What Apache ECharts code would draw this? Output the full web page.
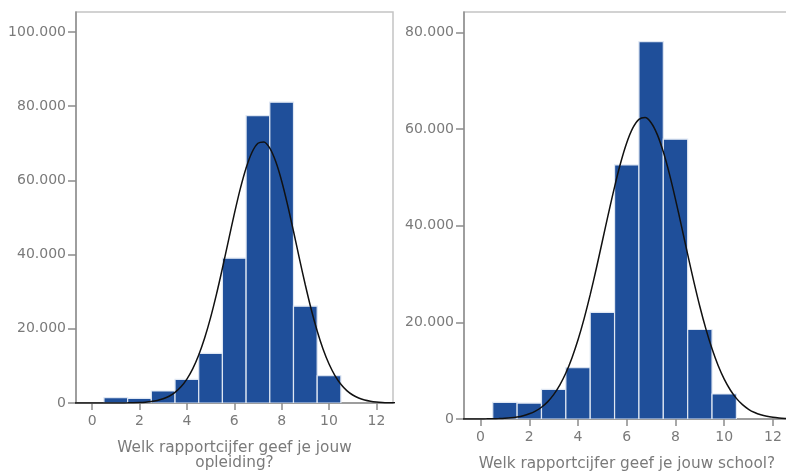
<!DOCTYPE html>
<html>
<head>
<meta charset="utf-8">
<script src="https://cdn.jsdelivr.net/npm/echarts@6/dist/echarts.min.js"></script>
<style>html,body{margin:0;padding:0;background:#fff}#c{width:786px;height:472px}</style>
</head>
<body>
<div id="c"></div>
<script>
// Bin centres (bin width 1)
const binCenters = [1, 2, 3, 4, 5, 6, 7, 8, 9, 10];
// Left: "Welk rapportcijfer geef je jouw opleiding?"
const opleidingCounts = [1430, 1260, 3230, 6380, 13380, 39030, 77440, 81100, 26110, 7350];
// Right: "Welk rapportcijfer geef je jouw school?"
const schoolCounts = [3430, 3300, 6120, 10600, 22040, 52570, 78060, 57880, 18520, 5170];

// Normal curve points
const curveX = [-1, -0.75, -0.5, -0.25, 0, 0.25, 0.5, 0.75, 1, 1.25, 1.5, 1.75, 2, 2.25, 2.5, 2.75, 3, 3.25, 3.5, 3.75,
  4, 4.25, 4.5, 4.75, 5, 5.25, 5.5, 5.75, 6, 6.25, 6.5, 6.75, 7, 7.25, 7.5, 7.75, 8, 8.25, 8.5, 8.75,
  9, 9.25, 9.5, 9.75, 10, 10.25, 10.5, 10.75, 11, 11.25, 11.5, 11.75, 12, 12.25, 12.5, 12.75, 13];
const opleidingCurve = [0, 0, 0, 0, 0, 1, 2, 4, 8, 17, 34, 65, 122, 223, 394, 677, 1128, 1825, 2865, 4365,
  6460, 9278, 12945, 17510, 23005, 29340, 36320, 43650, 50910, 57650, 63360, 67600, 70020, 70390, 68700, 65080, 59850, 53420, 46290, 38940,
  31800, 25200, 19390, 14480, 10500, 7390, 5046, 3346, 2155, 1345, 816, 481, 275, 152, 82, 43, 22];
const schoolCurve = [1, 2, 4, 9, 16, 29, 53, 92, 157, 263, 430, 687, 1071, 1635, 2434, 3545, 5041, 7008, 9510, 12640,
  16390, 20770, 25720, 31130, 36820, 42540, 48030, 53000, 57150, 60210, 61990, 62360, 61300, 58890, 55270, 50700, 45450, 39800, 34060, 28480,
  23280, 18590, 14510, 11060, 8237, 5998, 4266, 2967, 2014, 1338, 868, 550, 341, 206, 122, 70, 40];

// Tick values
const xTicks = [0, 2, 4, 6, 8, 10, 12];
const leftYTicks = [0, 20000, 40000, 60000, 80000, 100000];
const rightYTicks = [0, 20000, 40000, 60000, 80000];

const leftTitle = 'Welk rapportcijfer geef je jouw\nopleiding?';
const rightTitle = 'Welk rapportcijfer geef je jouw school?';

function fmt(v) {
  return String(Math.round(v)).replace(/\B(?=(\d{3})+(?!\d))/g, '.');
}

const FONT = 'DejaVu Sans';
const TXT = '#7a7a7a';
const AXIS = '#8c8c8c';

function xAxisCfg(idx, name) {
  return {
    type: 'value', gridIndex: idx, min: -0.68, max: 12.7,
    name: name, nameLocation: 'middle', nameGap: 38,
    nameTextStyle: { color: TXT, fontFamily: FONT, fontSize: 15.3, lineHeight: 15 },
    axisLine: { show: true, onZero: false, lineStyle: { color: AXIS, width: 1.5 } },
    axisTick: { show: true, length: 7, lineStyle: { color: AXIS, width: 1.5 }, customValues: xTicks },
    axisLabel: { color: TXT, fontFamily: FONT, fontSize: 14, margin: 11, customValues: xTicks },
    splitLine: { show: false }
  };
}
function yAxisCfg(idx, max, ticks) {
  return {
    type: 'value', gridIndex: idx, min: 0, max: max,
    axisLine: { show: true, onZero: false, lineStyle: { color: AXIS, width: 1.5 } },
    axisTick: { show: true, length: 8, lineStyle: { color: AXIS, width: 1.5 }, customValues: ticks },
    axisLabel: { color: TXT, fontFamily: FONT, fontSize: 14, margin: 10, customValues: ticks, formatter: fmt },
    splitLine: { show: false }
  };
}

function histRender(params, api) {
  const x = api.value(0), y = api.value(1);
  const p0 = api.coord([x - 0.5, 0]);
  const p1 = api.coord([x + 0.5, y]);
  return {
    type: 'rect',
    shape: { x: p0[0], y: p1[1], width: p1[0] - p0[0], height: p0[1] - p1[1] },
    style: { fill: '#1f4f9a', stroke: '#dfe7f3', lineWidth: 1.2 }
  };
}

const chart = echarts.init(document.getElementById('c'), null, { renderer: 'canvas' });
chart.setOption({
  animation: false,
  backgroundColor: '#ffffff',
  grid: [
    { left: 76, top: 12, width: 317, height: 391, show: true, borderColor: '#c4c4c4', borderWidth: 1.5, backgroundColor: 'transparent', outerBoundsMode: 'none', containLabel: false },
    { left: 464, top: 12, width: 326, height: 407, show: true, borderColor: '#c4c4c4', borderWidth: 1.5, backgroundColor: 'transparent', outerBoundsMode: 'none', containLabel: false }
  ],
  xAxis: [xAxisCfg(0, leftTitle), xAxisCfg(1, rightTitle)],
  yAxis: [yAxisCfg(0, 105400, leftYTicks), yAxisCfg(1, 84200, rightYTicks)],
  series: [
    { type: 'custom', xAxisIndex: 0, yAxisIndex: 0, renderItem: histRender, clip: true,
      data: binCenters.map((c, i) => [c, opleidingCounts[i]]) },
    { type: 'line', xAxisIndex: 0, yAxisIndex: 0, smooth: 0.3, showSymbol: false, clip: true,
      lineStyle: { color: '#111', width: 1.5 },
      data: curveX.map((x, i) => [x, opleidingCurve[i]]) },
    { type: 'custom', xAxisIndex: 1, yAxisIndex: 1, renderItem: histRender, clip: true,
      data: binCenters.map((c, i) => [c, schoolCounts[i]]) },
    { type: 'line', xAxisIndex: 1, yAxisIndex: 1, smooth: 0.3, showSymbol: false, clip: true,
      lineStyle: { color: '#111', width: 1.5 },
      data: curveX.map((x, i) => [x, schoolCurve[i]]) }
  ]
});
</script>
</body>
</html>
